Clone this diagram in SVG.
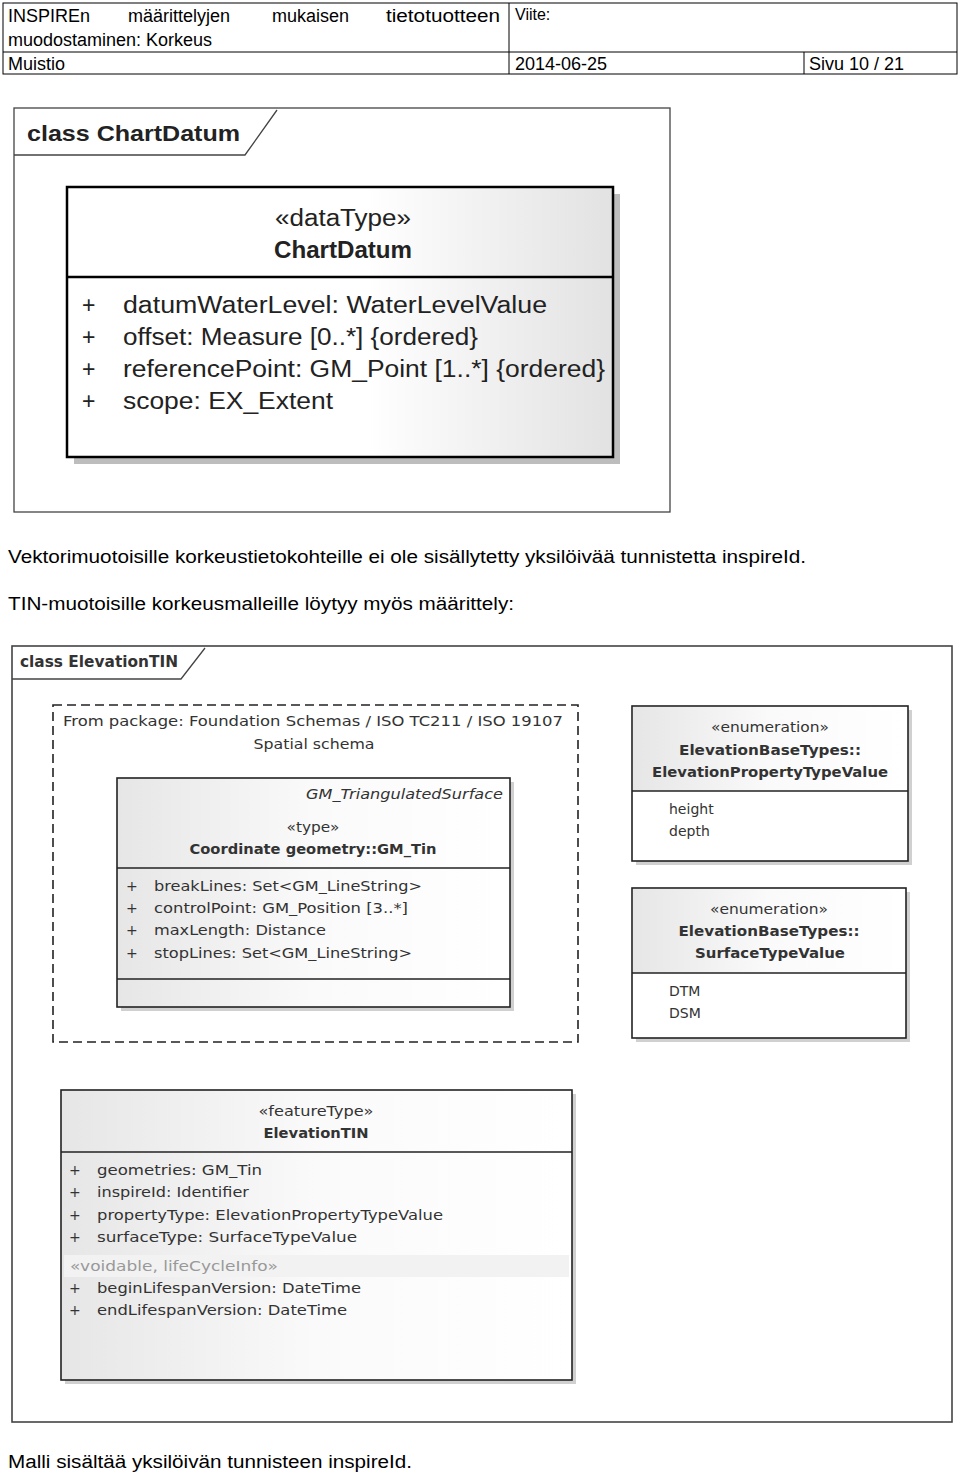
<svg xmlns="http://www.w3.org/2000/svg" width="960" height="1474" viewBox="0 0 960 1474">
<style>
.hdr{font-family:"Liberation Sans",Arial,sans-serif;font-size:18px;fill:#000}
.frame{fill:none;stroke:#444;stroke-width:1.3}
.cls{stroke:#000;stroke-width:2.5}
.cls2{stroke:#222;stroke-width:1.6}
.sep{stroke:#000;stroke-width:2.5}
.sep2{stroke:#222;stroke-width:1.4}
.shadow{fill:#bdbdbd}
.cd{font-family:"Liberation Sans",Arial,sans-serif;font-size:23px;fill:#222}
.tin{font-family:"DejaVu Sans","Liberation Sans",sans-serif;font-size:14px;fill:#333}
.b{font-weight:bold}
.mid{text-anchor:middle}
</style>
<defs>
<linearGradient id="g1" x1="0" y1="0" x2="1" y2="0">
<stop offset="0" stop-color="#ffffff"/><stop offset="0.55" stop-color="#ffffff"/><stop offset="1" stop-color="#e2e2e2"/>
</linearGradient>
<linearGradient id="g2" x1="0" y1="0" x2="1" y2="0">
<stop offset="0" stop-color="#e6e6e6"/><stop offset="0.5" stop-color="#fafafa"/><stop offset="1" stop-color="#ffffff"/>
</linearGradient>
</defs>
<rect width="960" height="1474" fill="#fff"/>

<g id="header">
<rect x="3" y="3" width="954" height="71" fill="none" stroke="#000" stroke-width="1"/>
<line x1="3" y1="52" x2="957" y2="52" stroke="#000"/>
<line x1="509" y1="3" x2="509" y2="74" stroke="#000"/>
<line x1="804" y1="52" x2="804" y2="74" stroke="#000"/>
<text class="hdr" x="8" y="22">INSPIREn</text>
<text class="hdr" x="128" y="22">määrittelyjen</text>
<text class="hdr" x="272" y="22">mukaisen</text>
<text class="hdr" x="386" y="22" textLength="114" lengthAdjust="spacingAndGlyphs">tietotuotteen</text>
<text class="hdr" x="8" y="46">muodostaminen: Korkeus</text>
<text class="hdr" x="515" y="20" style="font-size:16px">Viite:</text>
<text class="hdr" x="8" y="70">Muistio</text>
<text class="hdr" x="515" y="70">2014-06-25</text>
<text class="hdr" x="809" y="70">Sivu 10 / 21</text>
</g>

<g id="chartdatum-frame">
<rect x="14" y="108" width="656" height="404" class="frame"/>
<path d="M14,155 L245,155 L277,110" class="frame"/>
<text x="27" y="141" class="cd b" style="font-size:22px" textLength="213" lengthAdjust="spacingAndGlyphs">class ChartDatum</text>
</g>

<g id="ChartDatum">
<rect x="74" y="194" width="546" height="270" class="shadow"/>
<rect x="67" y="187" width="546" height="270" fill="url(#g1)" class="cls"/>
<line x1="67" y1="277" x2="613" y2="277" class="sep"/>
<text x="343" y="226" class="cd mid" textLength="136" lengthAdjust="spacingAndGlyphs">«dataType»</text>
<text x="343" y="258" class="cd mid b" textLength="138" lengthAdjust="spacingAndGlyphs">ChartDatum</text>
<text x="82" y="313" class="cd">+</text>
<text x="123" y="313" class="cd" textLength="424" lengthAdjust="spacingAndGlyphs">datumWaterLevel:  WaterLevelValue</text>
<text x="82" y="345" class="cd">+</text>
<text x="123" y="345" class="cd" textLength="355" lengthAdjust="spacingAndGlyphs">offset:  Measure [0..*] {ordered}</text>
<text x="82" y="377" class="cd">+</text>
<text x="123" y="377" class="cd" textLength="482" lengthAdjust="spacingAndGlyphs">referencePoint:  GM_Point [1..*] {ordered}</text>
<text x="82" y="409" class="cd">+</text>
<text x="123" y="409" class="cd" textLength="210" lengthAdjust="spacingAndGlyphs">scope:  EX_Extent</text>
</g>

<g id="paragraphs">
<text class="hdr" x="8" y="563" textLength="798" lengthAdjust="spacingAndGlyphs">Vektorimuotoisille korkeustietokohteille ei ole sisällytetty yksilöivää tunnistetta inspireId.</text>
<text class="hdr" x="8" y="610" textLength="506" lengthAdjust="spacingAndGlyphs">TIN-muotoisille korkeusmalleille löytyy myös määrittely:</text>
</g>

<g id="elevationtin-frame">
<rect x="12" y="646" width="940" height="776" class="frame" style="stroke-width:1.6"/>
<path d="M12,679 L181,679 L205,648" class="frame"/>
<text x="20" y="667" class="tin b" style="font-size:15px" textLength="158" lengthAdjust="spacingAndGlyphs">class ElevationTIN</text>
</g>

<g id="package">
<rect x="53" y="705" width="525" height="337" fill="none" stroke="#222" stroke-width="1.6" stroke-dasharray="9,5"/>
<text x="63" y="726" class="tin" textLength="500" lengthAdjust="spacingAndGlyphs">From package: Foundation Schemas / ISO TC211 / ISO 19107</text>
<text x="314" y="749" class="tin mid" textLength="121" lengthAdjust="spacingAndGlyphs">Spatial schema</text>
</g>

<g id="GM_Tin">
<rect x="121" y="782" width="393" height="229" class="shadow" style="fill:#d0d0d0"/>
<rect x="117" y="778" width="393" height="229" fill="url(#g2)" class="cls2"/>
<line x1="117" y1="868" x2="510" y2="868" class="sep2"/>
<line x1="117" y1="979" x2="510" y2="979" class="sep2"/>
<text x="503" y="799" class="tin" style="font-style:italic;text-anchor:end" textLength="197" lengthAdjust="spacingAndGlyphs">GM_TriangulatedSurface</text>
<text x="313" y="832" class="tin mid" textLength="53" lengthAdjust="spacingAndGlyphs">«type»</text>
<text x="313" y="854" class="tin mid b" textLength="247" lengthAdjust="spacingAndGlyphs">Coordinate geometry::GM_Tin</text>
<text x="126" y="891" class="tin">+</text>
<text x="154" y="891" class="tin" textLength="268" lengthAdjust="spacingAndGlyphs">breakLines:  Set&lt;GM_LineString&gt;</text>
<text x="126" y="913" class="tin">+</text>
<text x="154" y="913" class="tin" textLength="254" lengthAdjust="spacingAndGlyphs">controlPoint:  GM_Position [3..*]</text>
<text x="126" y="935" class="tin">+</text>
<text x="154" y="935" class="tin" textLength="172" lengthAdjust="spacingAndGlyphs">maxLength:  Distance</text>
<text x="126" y="958" class="tin">+</text>
<text x="154" y="958" class="tin" textLength="258" lengthAdjust="spacingAndGlyphs">stopLines:  Set&lt;GM_LineString&gt;</text>
</g>

<g id="ElevationPropertyTypeValue">
<rect x="636" y="710" width="276" height="155" class="shadow" style="fill:#d0d0d0"/>
<rect x="632" y="706" width="276" height="155" fill="#fff" class="cls2"/>
<rect x="633" y="707" width="274" height="84" fill="url(#g2)"/>
<line x1="632" y1="791" x2="908" y2="791" class="sep2"/>
<text x="770" y="732" class="tin mid" textLength="118" lengthAdjust="spacingAndGlyphs">«enumeration»</text>
<text x="770" y="755" class="tin mid b" textLength="182" lengthAdjust="spacingAndGlyphs">ElevationBaseTypes::</text>
<text x="770" y="777" class="tin mid b" textLength="236" lengthAdjust="spacingAndGlyphs">ElevationPropertyTypeValue</text>
<text x="669" y="814" class="tin">height</text>
<text x="669" y="836" class="tin">depth</text>
</g>

<g id="SurfaceTypeValue">
<rect x="636" y="892" width="274" height="150" class="shadow" style="fill:#d0d0d0"/>
<rect x="632" y="888" width="274" height="150" fill="#fff" class="cls2"/>
<rect x="633" y="889" width="272" height="84" fill="url(#g2)"/>
<line x1="632" y1="973" x2="906" y2="973" class="sep2"/>
<text x="769" y="914" class="tin mid" textLength="118" lengthAdjust="spacingAndGlyphs">«enumeration»</text>
<text x="769" y="936" class="tin mid b" textLength="181" lengthAdjust="spacingAndGlyphs">ElevationBaseTypes::</text>
<text x="770" y="958" class="tin mid b" textLength="150" lengthAdjust="spacingAndGlyphs">SurfaceTypeValue</text>
<text x="669" y="996" class="tin">DTM</text>
<text x="669" y="1018" class="tin">DSM</text>
</g>

<g id="ElevationTIN">
<rect x="65" y="1094" width="511" height="290" class="shadow" style="fill:#d0d0d0"/>
<rect x="61" y="1090" width="511" height="290" fill="url(#g2)" class="cls2"/>
<line x1="61" y1="1152" x2="572" y2="1152" class="sep2"/>
<rect x="64" y="1255" width="505" height="22" fill="#f2f2f2"/>
<text x="316" y="1116" class="tin mid" textLength="115" lengthAdjust="spacingAndGlyphs">«featureType»</text>
<text x="316" y="1138" class="tin mid b" textLength="105" lengthAdjust="spacingAndGlyphs">ElevationTIN</text>
<text x="69" y="1175" class="tin">+</text>
<text x="97" y="1175" class="tin" textLength="165" lengthAdjust="spacingAndGlyphs">geometries:  GM_Tin</text>
<text x="69" y="1197" class="tin">+</text>
<text x="97" y="1197" class="tin" textLength="152" lengthAdjust="spacingAndGlyphs">inspireId:  Identifier</text>
<text x="69" y="1220" class="tin">+</text>
<text x="97" y="1220" class="tin" textLength="346" lengthAdjust="spacingAndGlyphs">propertyType:  ElevationPropertyTypeValue</text>
<text x="69" y="1242" class="tin">+</text>
<text x="97" y="1242" class="tin" textLength="260" lengthAdjust="spacingAndGlyphs">surfaceType:  SurfaceTypeValue</text>
<text x="70" y="1271" class="tin" style="fill:#999" textLength="208" lengthAdjust="spacingAndGlyphs">«voidable, lifeCycleInfo»</text>
<text x="69" y="1293" class="tin">+</text>
<text x="97" y="1293" class="tin" textLength="264" lengthAdjust="spacingAndGlyphs">beginLifespanVersion:  DateTime</text>
<text x="69" y="1315" class="tin">+</text>
<text x="97" y="1315" class="tin" textLength="250" lengthAdjust="spacingAndGlyphs">endLifespanVersion:  DateTime</text>
</g>

<g id="connectors"/>

<g id="footer">
<text class="hdr" x="8" y="1468" textLength="404" lengthAdjust="spacingAndGlyphs">Malli sisältää yksilöivän tunnisteen inspireId.</text>
</g>
</svg>
